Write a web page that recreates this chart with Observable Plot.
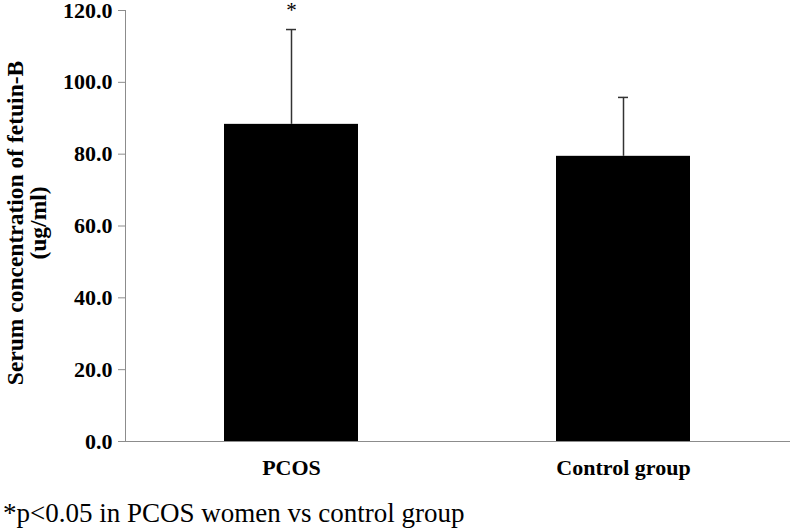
<!DOCTYPE html>
<html><head><meta charset="utf-8">
<script src="https://cdn.jsdelivr.net/npm/d3@7"></script>
<script src="https://cdn.jsdelivr.net/npm/@observablehq/plot@0.6"></script>
<style>
body{margin:0;background:#fff;}
#caption{font-family:"Liberation Serif","Times New Roman",serif;font-size:27px;line-height:30px;padding-left:3px;color:#000;white-space:nowrap;}
</style></head><body>
<div id="chart"></div>
<div id="caption"></div>
<script>
const groups = ["PCOS", "Control group"];
const means = [88.3, 79.4];
const errors = [26.4, 16.4];
const significance = ["*", ""];
const yTicks = [0, 20, 40, 60, 80, 100, 120];
const yLabel = "Serum concentration of fetuin-B\n(ug/ml)";
const captionText = "*p<0.05 in PCOS women vs control group";

const data = groups.map((g, i) => ({group: g, mean: means[i], upper: means[i] + errors[i], sig: significance[i]}));
const font = '"Liberation Serif","Times New Roman",serif';
const chart = Plot.plot({
  width: 793, height: 498, marginLeft: 125, marginRight: 3, marginTop: 10, marginBottom: 57,
  style: {fontFamily: font, background: "#fff", color: "#000", overflow: "visible"},
  x: {domain: groups, paddingInner: 0.595, paddingOuter: 0.2975},
  y: {domain: [0, 120]},
  marks: [
    Plot.barY(data, {x: "group", y: "mean", fill: "#000"}),
    Plot.ruleX(data, {x: "group", y1: "mean", y2: "upper", stroke: "#333", strokeWidth: 1.5}),
    Plot.tickY(data, {x: "group", y: "upper", stroke: "#333", strokeWidth: 1.5, insetLeft: 62, insetRight: 62}),
    Plot.text(data, {x: "group", y: "upper", text: "sig", dy: -19, fontSize: 21}),
    Plot.frame({anchor: "left", stroke: "#8c8c8c"}),
    Plot.ruleY([0], {stroke: "#8c8c8c"}),
    Plot.axisY({ticks: yTicks, tickFormat: d3.format(".1f"), tickSize: 7, tickPadding: 6, fontSize: 22, fontWeight: "bold", label: null, stroke: "#8c8c8c", fill: "#000"}),
    Plot.axisX({tickSize: 0, tickPadding: 18, fontSize: 22, fontWeight: "bold", label: null, fill: "#000"}),
    Plot.text([yLabel], {frameAnchor: "left", textAnchor: "middle", rotate: -90, dx: -98, dy: -3, fontSize: 23.5, fontWeight: "bold", lineHeight: 0.95})
  ]
});
document.getElementById("chart").appendChild(chart);
document.getElementById("caption").textContent = captionText;
</script>
</body></html>
